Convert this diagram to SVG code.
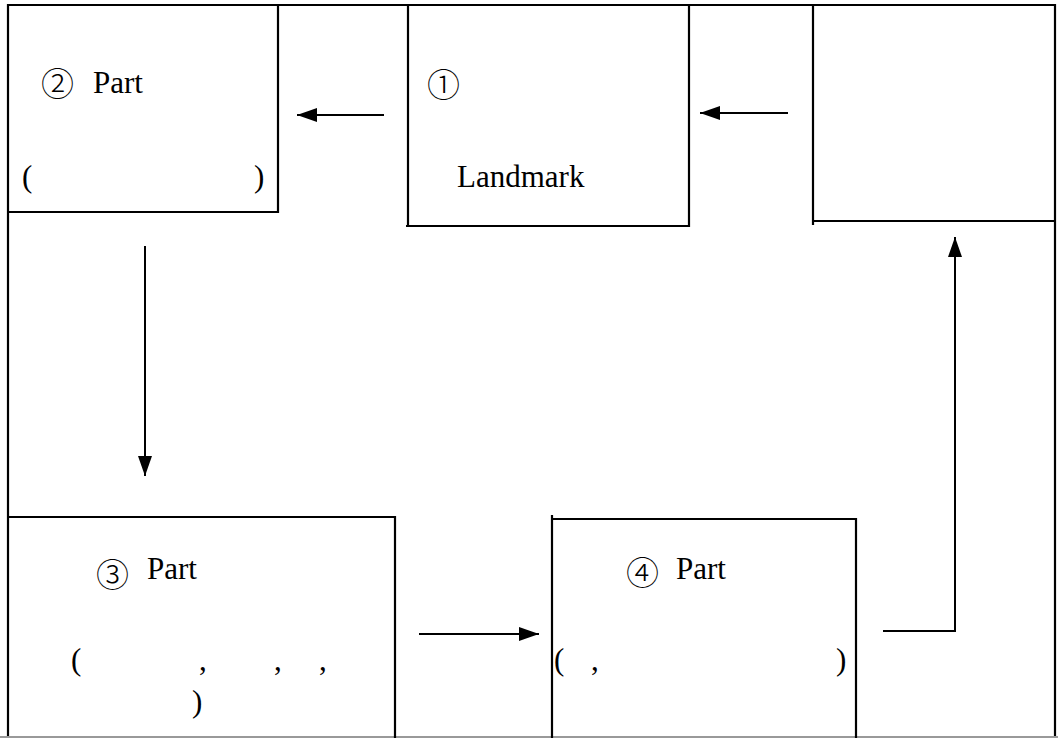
<svg xmlns="http://www.w3.org/2000/svg" width="1058" height="738" viewBox="0 0 1058 738">
  <style>
    .edge { fill: none; stroke: #000; stroke-width: 2.2; }
    .conn { fill: none; stroke: #000; stroke-width: 2; }
    .lbl { font-family: "Liberation Serif", "Noto Sans CJK SC", serif; font-size: 31px; fill: #000; }
    .num { font-family: "Noto Sans CJK SC", "Liberation Serif", serif; font-size: 33px; fill: #000; font-weight: 300; }
  </style>
  <defs>
    <marker id="head" viewBox="0 0 20 14" refX="20" refY="7" markerWidth="20" markerHeight="14" markerUnits="userSpaceOnUse" orient="auto">
      <path d="M0,0 L20,7 L0,14 Z" fill="#000"/>
    </marker>
  </defs>

  <rect width="1058" height="738" fill="#fff"/>

  <!-- page frame -->
  <g id="frame">
    <path class="edge" d="M8,738 V5 H1055 V738"/>
    <line x1="0" y1="737" x2="1058" y2="737" stroke="#999" stroke-width="2"/>
  </g>

  <!-- step 2 -->
  <g id="part2">
    <path class="edge" d="M8,212 H278 V5"/>
    <text class="num" x="41" y="96">②</text>
    <text class="lbl" x="93" y="93">Part</text>
    <text class="lbl" x="22" y="187">(</text>
    <text class="lbl" x="254" y="187">)</text>
  </g>

  <!-- step 1 -->
  <g id="part1">
    <path class="edge" d="M408,5 V226 M406,226 H689 V5"/>
    <text class="num" x="427" y="97">①</text>
    <text class="lbl" x="457" y="187">Landmark</text>
  </g>

  <!-- start -->
  <g id="source">
    <path class="edge" d="M813,5 V225 M813,221 H1055"/>
  </g>

  <!-- step 3 -->
  <g id="part3">
    <path class="edge" d="M8,517 H395 V738"/>
    <text class="num" x="96" y="587">③</text>
    <text class="lbl" x="147" y="579">Part</text>
    <text class="lbl" x="71" y="670">(</text>
    <text class="lbl" x="199" y="670">,</text>
    <text class="lbl" x="274" y="670">,</text>
    <text class="lbl" x="319" y="670">,</text>
    <text class="lbl" x="192" y="712">)</text>
  </g>

  <!-- step 4 -->
  <g id="part4">
    <path class="edge" d="M552,515 V738 M552,519 H856 V738"/>
    <text class="num" x="626" y="585">④</text>
    <text class="lbl" x="676" y="579">Part</text>
    <text class="lbl" x="554" y="670">(</text>
    <text class="lbl" x="591" y="670">,</text>
    <text class="lbl" x="836" y="670">)</text>
  </g>

  <!-- flow connectors -->
  <g id="connectors">
    <line class="conn" x1="788" y1="113" x2="700" y2="113" marker-end="url(#head)"/>
    <line class="conn" x1="384" y1="115" x2="297" y2="115" marker-end="url(#head)"/>
    <line class="conn" x1="145" y1="246" x2="145" y2="476" marker-end="url(#head)"/>
    <line class="conn" x1="419" y1="634" x2="539" y2="634" marker-end="url(#head)"/>
    <polyline class="conn" points="883,631 955,631 955,237" marker-end="url(#head)"/>
  </g>
</svg>
